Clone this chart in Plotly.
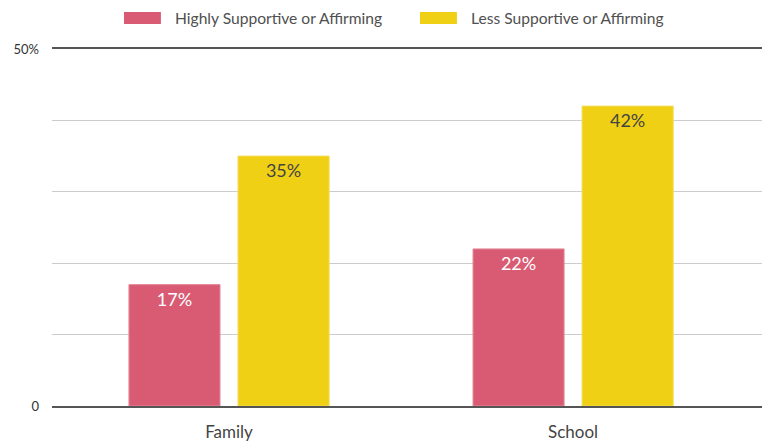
import plotly.graph_objects as go

categories = ["Family", "School"]
series_names = ["Highly Supportive or Affirming", "Less Supportive or Affirming"]
highly_supportive = [17, 22]
less_supportive = [35, 42]
y_tick_values = [0, 10, 20, 30, 40, 50]
y_tick_labels = ["0", "", "", "", "", "50%"]

pink = "#D95B73"
yellow = "#F0D014"
font_family = "Lato, 'Open Sans', sans-serif"

fig = go.Figure()
fig.add_trace(go.Bar(
    x=categories, y=highly_supportive, name=series_names[0],
    marker=dict(color=pink, line=dict(color="#E58A9B", width=1)),
    texttemplate="%{y}%", textposition="inside", insidetextanchor="end",
    textangle=0, constraintext="none",
    insidetextfont=dict(color="white", size=18, family=font_family),
    showlegend=False,
))
fig.add_trace(go.Bar(
    x=categories, y=less_supportive, name=series_names[1],
    marker=dict(color=yellow, line=dict(color="#F3DA55", width=1)),
    texttemplate="%{y}%", textposition="inside", insidetextanchor="end",
    textangle=0, constraintext="none",
    insidetextfont=dict(color="#444444", size=18, family=font_family),
    showlegend=False,
))

# custom legend (wide swatches)
legend_items = [(series_names[0], pink, 0.1014), (series_names[1], yellow, 0.5183)]
for name, color, x0 in legend_items:
    fig.add_shape(type="rect", xref="paper", yref="paper",
                  x0=x0, x1=x0 + 0.052, y0=1.070, y1=1.1036,
                  fillcolor=color, line=dict(width=0))
    fig.add_annotation(xref="paper", yref="paper", x=x0 + 0.0690, y=1.0868,
                       text=name, showarrow=False, xanchor="left", yanchor="middle",
                       font=dict(size=15.6, color="#505050", family=font_family))

fig.update_layout(
    width=769, height=441,
    margin=dict(l=52, r=7, t=49, b=35),
    paper_bgcolor="white", plot_bgcolor="white",
    barmode="group", bargap=0.366, bargroupgap=0.165,
    font=dict(family=font_family, color="#444444"),
)
fig.update_xaxes(
    range=[-0.5145, 1.549], automargin=False,
    showline=True, linecolor="#555555", linewidth=2, mirror=True,
    showgrid=False, ticks="",
    tickfont=dict(size=17, color="#444444", family=font_family),
    ticklabelstandoff=10,
)
fig.update_yaxes(
    range=[0, 50], tickvals=y_tick_values, ticktext=y_tick_labels,
    automargin=False,
    showgrid=True, gridcolor="#CCCCCC", gridwidth=1,
    zeroline=False, showline=False, ticks="",
    tickfont=dict(size=13, color="#333333", family=font_family),
    ticklabelstandoff=12,
)

fig.write_html("out.html")
